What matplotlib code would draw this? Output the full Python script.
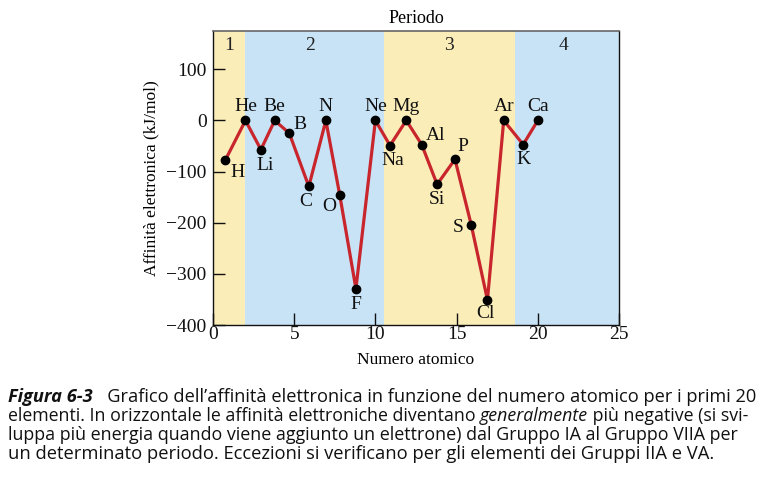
import matplotlib
matplotlib.use("Agg")
import matplotlib.pyplot as plt

# ---- data ----
symbols = ["H", "He", "Li", "Be", "B", "C", "N", "O", "F", "Ne",
           "Na", "Mg", "Al", "Si", "P", "S", "Cl", "Ar", "K", "Ca"]
atomic_pos = [0.75, 2.0, 2.95, 3.8, 4.7, 5.9, 6.95, 7.8, 8.8, 10.0,
              10.9, 11.9, 12.85, 13.8, 14.9, 15.9, 16.9, 17.9, 19.1, 20.0]
affinity = [-78, 0, -57, 0, -25, -129, 0, -145, -329, 0,
            -49, 0, -47, -125, -76, -204, -351, 0, -47, 0]
period_edges = [0, 2, 10.5, 18.6, 25]
period_labels = ["1", "2", "3", "4"]
period_label_x = [1.0, 6.0, 14.5, 21.6]
xticks = [0, 5, 10, 15, 20, 25]
yticks = [-400, -300, -200, -100, 0, 100]

# label offsets (pixels)
offsets = {"H": (12, -12), "He": (0, 14), "Li": (4, -16), "Be": (0, 14),
           "B": (11, 9), "C": (-3, -15), "N": (0, 14), "O": (-10, -12),
           "F": (0, -16), "Ne": (0, 14), "Na": (3, -15), "Mg": (0, 14),
           "Al": (14, 9), "Si": (0, -15), "P": (8, 13), "S": (-13, -3),
           "Cl": (-2, -14), "Ar": (0, 14), "K": (0, -15), "Ca": (0, 14)}

YELLOW = "#FAEDB8"
BLUE = "#C9E3F6"
RED = "#C8252C"
serif = ["Liberation Serif", "DejaVu Serif"]
FS_TICK = 14
FS_LAB = 12.5

fig = plt.figure(figsize=(7.63, 4.82), dpi=100)
ax = fig.add_axes([213 / 763, 1 - 325 / 482, (619 - 213) / 763, (325 - 31) / 482])
ax.set_xlim(0, 25)
ax.set_ylim(-400, 175)

colors = [YELLOW, BLUE, YELLOW, BLUE]
for i in range(4):
    ax.axvspan(period_edges[i], period_edges[i + 1], color=colors[i], lw=0, zorder=0)
    ax.text(period_label_x[i], 147, period_labels[i], ha="center", va="center",
            fontsize=FS_TICK, family=serif, color="#222222")

ax.plot(atomic_pos, affinity, color=RED, lw=2.3, zorder=2)
ax.plot(atomic_pos, affinity, "o", color="black", ms=6, zorder=3)

for s, x, y in zip(symbols, atomic_pos, affinity):
    dx, dy = offsets[s]
    ax.annotate(s, (x, y), xytext=(dx, dy), textcoords="offset pixels",
                ha="center", va="center", fontsize=FS_TICK, family=serif, color="#111111")

ax.set_xticks(xticks)
ax.set_yticks(yticks)
ax.set_xticklabels([str(v) for v in xticks], family=serif, fontsize=FS_TICK)
ax.set_yticklabels([f"\u2212{abs(v)}" if v < 0 else str(v) for v in yticks],
                   family=serif, fontsize=FS_TICK)
ax.tick_params(direction="in", length=8.5, width=1, pad=4.5, colors="#111111")
ax.tick_params(axis="x", pad=1)
for sp in ["left", "bottom", "right"]:
    ax.spines[sp].set_linewidth(1.0)
    ax.spines[sp].set_color("#111111")
ax.spines["top"].set_color("#666666")
ax.spines["top"].set_linewidth(1.2)

ax.set_xlabel("Numero atomico", family=serif, fontsize=FS_LAB, labelpad=6)
ax.set_ylabel("Affinità elettronica (kJ/mol)", family=serif, fontsize=FS_LAB, labelpad=5)
ax.text(0.5, 1.044, "Periodo", transform=ax.transAxes, ha="center", va="center",
        family=serif, fontsize=13)

# ---- caption ----
cap_font = ["Open Sans", "DejaVu Sans"]
cap_size = 13.0
lines = [
    [("Figura 6-3", dict(weight="bold", style="italic")),
     ("   Grafico dell\u2019affinità elettronica in funzione del numero atomico per i primi 20", {})],
    [("elementi. In orizzontale le affinità elettroniche diventano ", {}),
     ("generalmente", dict(style="italic")),
     (" più negative (si svi-", {})],
    [("luppa più energia quando viene aggiunto un elettrone) dal Gruppo IA al Gruppo VIIA per", {})],
    [("un determinato periodo. Eccezioni si verificano per gli elementi dei Gruppi IIA e VA.", {})],
]
baselines = [402, 421, 440, 459]
right_edges = [755, 746, 734, 710]
x0 = 8
fig.canvas.draw()
renderer = fig.canvas.get_renderer()


def place(runs, base, size):
    x = x0
    made = []
    for txt, kw in runs:
        t = fig.text(x / 763, 1 - base / 482, txt, ha="left", va="baseline",
                     family=cap_font, fontsize=size, color="#111111", **kw)
        x += t.get_window_extent(renderer).width
        made.append(t)
    return made, x


for runs, base, right in zip(lines, baselines, right_edges):
    made, xend = place(runs, base, cap_size)
    scale = (right - x0) / (xend - x0)
    for t in made:
        t.remove()
    place(runs, base, cap_size * scale)

fig.savefig("out.png", dpi=100)
